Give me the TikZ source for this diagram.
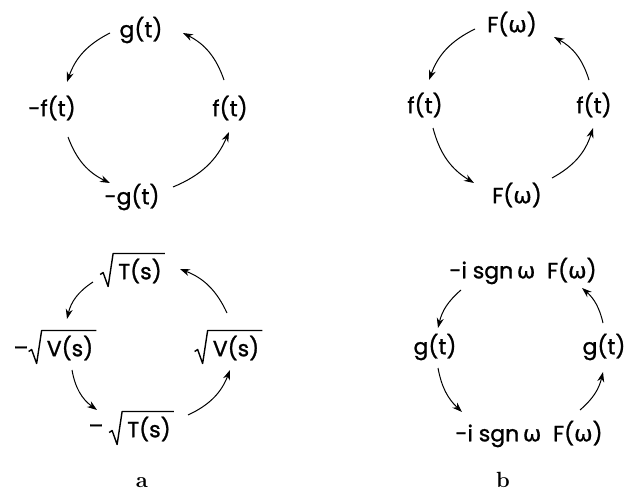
\documentclass[tikz,border=0pt]{standalone}
\usepackage{fontspec}
\newfontfamily\lblfont{Poppins}[FakeBold=1.2]
\newfontfamily\grk{DejaVu Sans}[FakeBold=0.6]
\usetikzlibrary{arrows.meta}
\newcommand{\om}{{\grk ω}}
\newcommand{\radic}[1]{\draw[radline] ([shift={(-18,-9)}]#1.south west) -- ++(3,-2) -- ([shift={(-10,3)}]#1.south west) -- ([shift={(-5,-5)}]#1.north west) -- ([shift={(3,-5)}]#1.north east);}
\tikzset{
  lbl/.style={font=\lblfont\fontsize{22}{26}\selectfont, inner sep=0pt},
  panelcap/.style={font=\rmfamily\bfseries\fontsize{22}{26}\selectfont, inner sep=0pt, anchor=base},
  arr/.style={-{Stealth[length=10pt,width=7pt]}, line width=1pt},
  radline/.style={line width=1.4pt, line join=round}
}
\begin{document}
\begin{tikzpicture}[x=1pt,y=-1pt]
\useasboundingbox (0,0) rectangle (634,492);
% panel a top
\node[lbl] (g1) at (141,30) {g(t)};
\node[lbl] (mf1) at (52,108) {-f(t)};
\node[lbl] (f1) at (230,108) {f(t)};
\node[lbl] (mg1) at (132,197) {-g(t)};
\draw[arr] ([shift={(-31,3)}]g1.center) to[bend right=22] ([shift={(15,-26)}]mf1.center);
\draw[arr] ([shift={(16,29)}]mf1.center) to[bend right=22] ([shift={(-22,-14)}]mg1.center);
\draw[arr] ([shift={(41,-10)}]mg1.center) to[bend right=22] ([shift={(-1,24)}]f1.center);
\draw[arr] ([shift={(-6,-28)}]f1.center) to[bend right=22] ([shift={(42,3)}]g1.center);
% panel b top
\node[lbl] (F1) at (512,24) {F(\om)};
\node[lbl] (fl) at (425,105) {f(t)};
\node[lbl] (fr) at (594,105) {f(t)};
\node[lbl] (F2) at (517,195) {F(\om)};
\draw[arr] ([shift={(-37,5)}]F1.center) to[bend right=22] ([shift={(4,-25)}]fl.center);
\draw[arr] ([shift={(8,23)}]fl.center) to[bend right=22] ([shift={(-43,-12)}]F2.center);
\draw[arr] ([shift={(35,-17)}]F2.center) to[bend right=22] ([shift={(-1,23)}]fr.center);
\draw[arr] ([shift={(-5,-25)}]fr.center) to[bend right=22] ([shift={(42,13)}]F1.center);
% panel a bottom
\node[lbl] (T1) at (140,271) {T(s)};
\node[lbl] (mV) at (70,348) {V(s)};
\node[lbl] (mVm) at (21,351) {–};
\node[lbl] (V1) at (236,348) {V(s)};
\node[lbl] (mT) at (149,429) {T(s)};
\node[lbl] (mTm) at (96,429) {–};
\radic{T1}
\radic{mV}
\radic{V1}
\radic{mT}
\draw[arr] ([shift={(-47,11)}]T1.center) to[bend right=22] ([shift={(-3,-29)}]mV.center);
\draw[arr] ([shift={(2,22)}]mV.center) to[bend right=22] ([shift={(-52,-19)}]mT.center);
\draw[arr] ([shift={(39,-14)}]mT.center) to[bend right=22] ([shift={(-6,22)}]V1.center);
\draw[arr] ([shift={(-9,-35)}]V1.center) to[bend right=22] ([shift={(40,-2)}]T1.center);
% panel b bottom
\node[lbl] (H1) at (523,271) {-i sgn\,\om\ \ F(\om)};
\node[lbl] (gl) at (435,347) {g(t)};
\node[lbl] (gr) at (604,347) {g(t)};
\node[lbl] (H2) at (529,434) {-i sgn\,\om\ \ F(\om)};
\draw[arr] ([shift={(-62,19)}]H1.center) to[bend right=18] ([shift={(3,-19)}]gl.center);
\draw[arr] ([shift={(3,21)}]gl.center) to[bend right=18] ([shift={(-67,-22)}]H2.center);
\draw[arr] ([shift={(51,-24)}]H2.center) to[bend right=18] ([shift={(-1,25)}]gr.center);
\draw[arr] ([shift={(-1,-24)}]gr.center) to[bend right=18] ([shift={(59,17)}]H1.center);
% captions
\node[panelcap] (ca) at (142,487) {a};
\node[panelcap] (cb) at (503,487) {b};
\end{tikzpicture}
\end{document}
